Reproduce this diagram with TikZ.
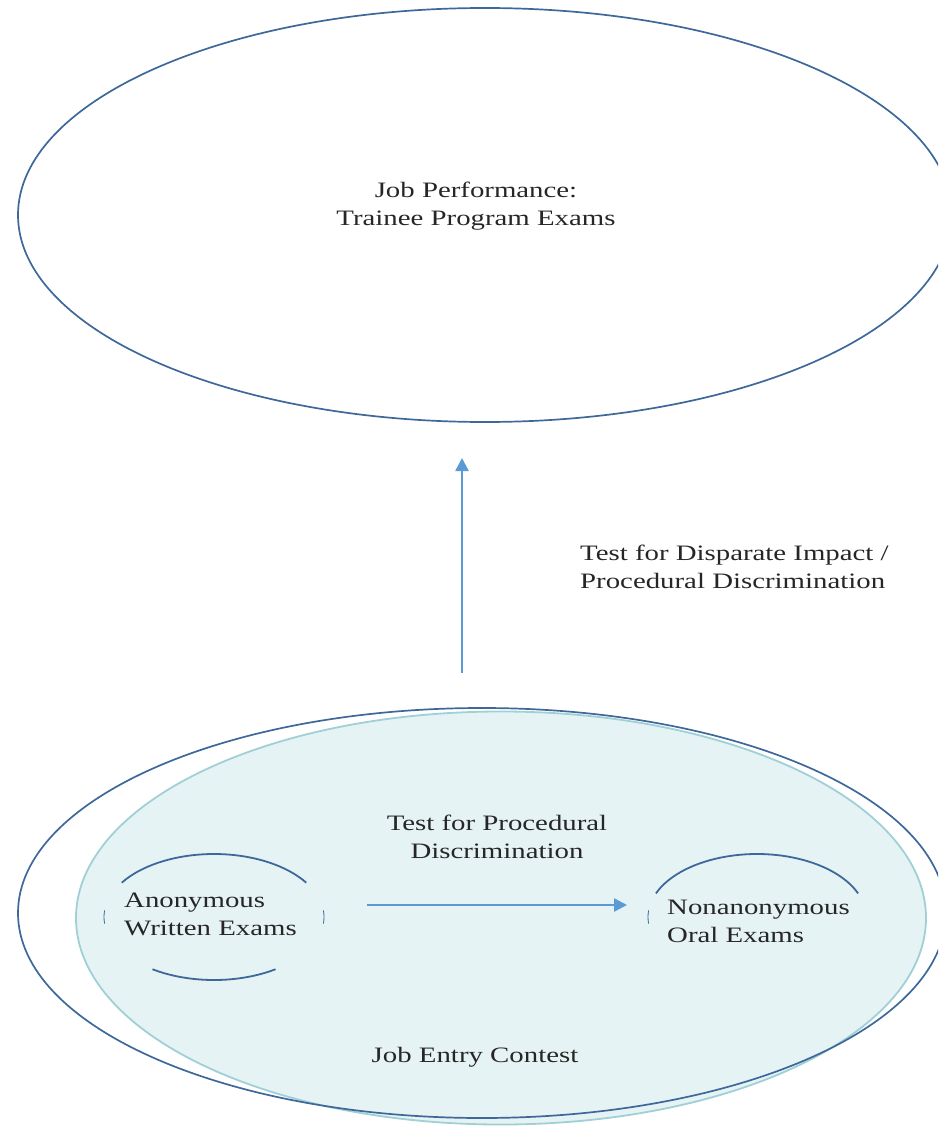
\documentclass[tikz,border=0pt]{standalone}
\usepackage{fontspec}
\setmainfont[FakeStretch=1.31]{Liberation Serif}
\usetikzlibrary{shapes.geometric,arrows.meta}
\definecolor{ellblue}{RGB}{62,104,154}
\definecolor{arrblue}{RGB}{91,155,213}
\definecolor{pale}{RGB}{230,243,245}
\definecolor{paleline}{RGB}{160,208,214}
\definecolor{ink}{RGB}{38,38,38}
\begin{document}
\begin{tikzpicture}[x=1pt,y=-1pt,
  oval/.style={ellipse, draw=ellblue, line width=1.7pt, inner sep=0pt},
  lbl/.style={text=ink, font=\fontsize{22}{28}\selectfont, inner sep=0pt},
  link/.style={arrblue, line width=2.4pt, -{Triangle[length=13pt,width=13pt]}},
  part/.style={ellblue, line width=1.8pt}]
\useasboundingbox (0,0) rectangle (938,1126);
\clip (0,0) rectangle (938,1126);
% upper oval
\node[oval, minimum width=934, minimum height=414] (perf) at (485,215){};
\node[lbl, align=center] (perflbl) at (476,206){Job Performance:\\Trainee Program Exams};
% lower ovals
\node[ellipse, fill=pale, draw=paleline, line width=1.8pt, minimum width=850, minimum height=413] (entry) at (501,918){};
\node[oval, minimum width=928, minimum height=410] (contest) at (482,913){};
\node[lbl] (contestlbl) at (475,1057){Job Entry Contest};
% vertical link
\coordinate (vtail) at (462,673);
\coordinate (vhead) at (462,458);
\draw[link] (vtail) -- (vhead);
\node[lbl, anchor=west, align=left] (impact) at (580,567){Test for Disparate Impact /\\Procedural Discrimination};
% partial ovals
\coordinate (anon) at (214,917);
\coordinate (nonanon) at (757,917);
\draw[part] (anon) ++(213:110 and 63) arc[start angle=213, end angle=327, x radius=110, y radius=63];
\draw[part] (anon) ++(56:110 and 63) arc[start angle=56, end angle=124, x radius=110, y radius=63];
\draw[part, line width=0.8pt] (anon) ++(174:110 and 63) arc[start angle=174, end angle=186, x radius=110, y radius=63];
\draw[part, line width=0.8pt] (anon) ++(-6:110 and 63) arc[start angle=-6, end angle=6, x radius=110, y radius=63];
\draw[part] (nonanon) ++(202:109 and 63) arc[start angle=202, end angle=338, x radius=109, y radius=63];
\draw[part, line width=0.8pt] (nonanon) ++(174:109 and 63) arc[start angle=174, end angle=186, x radius=109, y radius=63];
\node[lbl, anchor=west, align=left] (written) at (124,914){Anonymous\\Written Exams};
\node[lbl, anchor=west, align=left] (oral) at (667,921){Nonanonymous\\Oral Exams};
% horizontal link
\node[lbl, align=center] (proc) at (497,837){Test for Procedural\\Discrimination};
\coordinate (htail) at (367,905);
\coordinate (hhead) at (627,905);
\draw[link] (htail) -- (hhead);
\end{tikzpicture}
\end{document}
